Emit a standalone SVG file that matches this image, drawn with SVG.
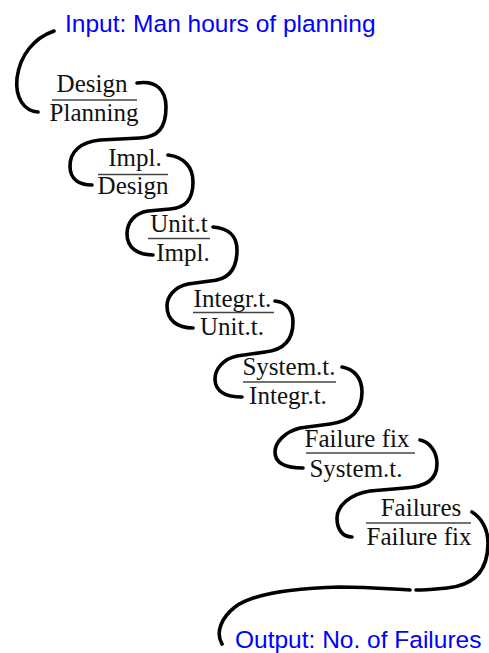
<svg xmlns="http://www.w3.org/2000/svg" width="489" height="653" viewBox="0 0 489 653">
  <style>
    .io { font-family: "Liberation Sans", Arial, sans-serif; font-size: 24.5px; fill: #0000ff; }
    .term { font-family: "Liberation Serif", "Times New Roman", serif; font-size: 25px; fill: #111; text-anchor: middle; }
    .bar { stroke: #444; stroke-width: 1.6; fill: none; }
    .wire { stroke: #000; stroke-width: 3.6; fill: none; stroke-linecap: round; stroke-linejoin: round; }
  </style>
  <rect width="489" height="653" fill="#fff"/>

  <!-- stroke chain linking the ratios -->
  <g id="connectors">
    <path class="wire" d="M54,31 C34,38 20,55 17,78 C15,98 24,111 38,112"/>
    <path class="wire" d="M137,83 C156,80 166,90 166,107 C166,128 158,137 140,138 L100,140 C80,142 70,152 70,166 C70,180 80,185 92,185"/>
    <path class="wire" d="M168,155 C185,157 193,168 193,182 C193,200 185,208 170,209 L148,211 C135,213 127,222 127,234 C127,248 138,255 153,255"/>
    <path class="wire" d="M213,227 C228,228 237,236 237,250 C237,268 230,280 210,281 L188,284 C174,287 167,297 167,306 C167,320 177,328 193,328"/>
    <path class="wire" d="M275,301 C287,302 293,311 293,322 C293,340 284,350 265,352 L237,356 C223,359 215,369 215,379 C215,392 227,397 242,397"/>
    <path class="wire" d="M342,367 C354,369 362,378 362,392 C362,410 352,421 330,424 L300,428 C284,432 275,443 275,452 C275,463 286,468 303,468"/>
    <path class="wire" d="M420,440 C430,442 437,452 437,464 C437,478 428,487 405,488 L370,491 C350,494 337,506 337,518 C337,530 343,537 352,537"/>
    <path class="wire" d="M472,512 C482,518 488,530 488,543 C488,566 478,585 447,588 C435,589 425,590 416,590"/>
    <path class="wire" d="M410,590 C390,589 370,587 340,587 C300,588 255,592 235,607 C222,617 215,632 222,644"/>
  </g>

  <g id="input">
    <text class="io" x="65" y="31.5">Input: Man hours of planning</text>
  </g>

  <g id="design-planning">
    <text class="term" x="92" y="92">Design</text>
    <line class="bar" x1="52" y1="100" x2="137" y2="100"/>
    <text class="term" x="94" y="121">Planning</text>
  </g>

  <g id="impl-design">
    <text class="term" x="135" y="166">Impl.</text>
    <line class="bar" x1="98" y1="174.5" x2="168" y2="174.5"/>
    <text class="term" x="133" y="194">Design</text>
  </g>

  <g id="unit-impl">
    <text class="term" x="179" y="232">Unit.t</text>
    <line class="bar" x1="148" y1="238.5" x2="210" y2="238.5"/>
    <text class="term" x="183" y="261">Impl.</text>
  </g>

  <g id="integr-unit">
    <text class="term" x="232.5" y="307">Integr.t.</text>
    <line class="bar" x1="193" y1="312.5" x2="274" y2="312.5"/>
    <text class="term" x="232" y="335">Unit.t.</text>
  </g>

  <g id="system-integr">
    <text class="term" x="289" y="375">System.t.</text>
    <line class="bar" x1="243" y1="382" x2="336" y2="382"/>
    <text class="term" x="288" y="404">Integr.t.</text>
  </g>

  <g id="fix-system">
    <text class="term" x="357" y="447">Failure fix</text>
    <line class="bar" x1="306" y1="453" x2="415" y2="453"/>
    <text class="term" x="356" y="477">System.t.</text>
  </g>

  <g id="failures-fix">
    <text class="term" x="421" y="516">Failures</text>
    <line class="bar" x1="366" y1="523" x2="471" y2="523"/>
    <text class="term" x="419" y="545">Failure fix</text>
  </g>

  <g id="output">
    <text class="io" x="235" y="648">Output: No. of Failures</text>
  </g>
</svg>
